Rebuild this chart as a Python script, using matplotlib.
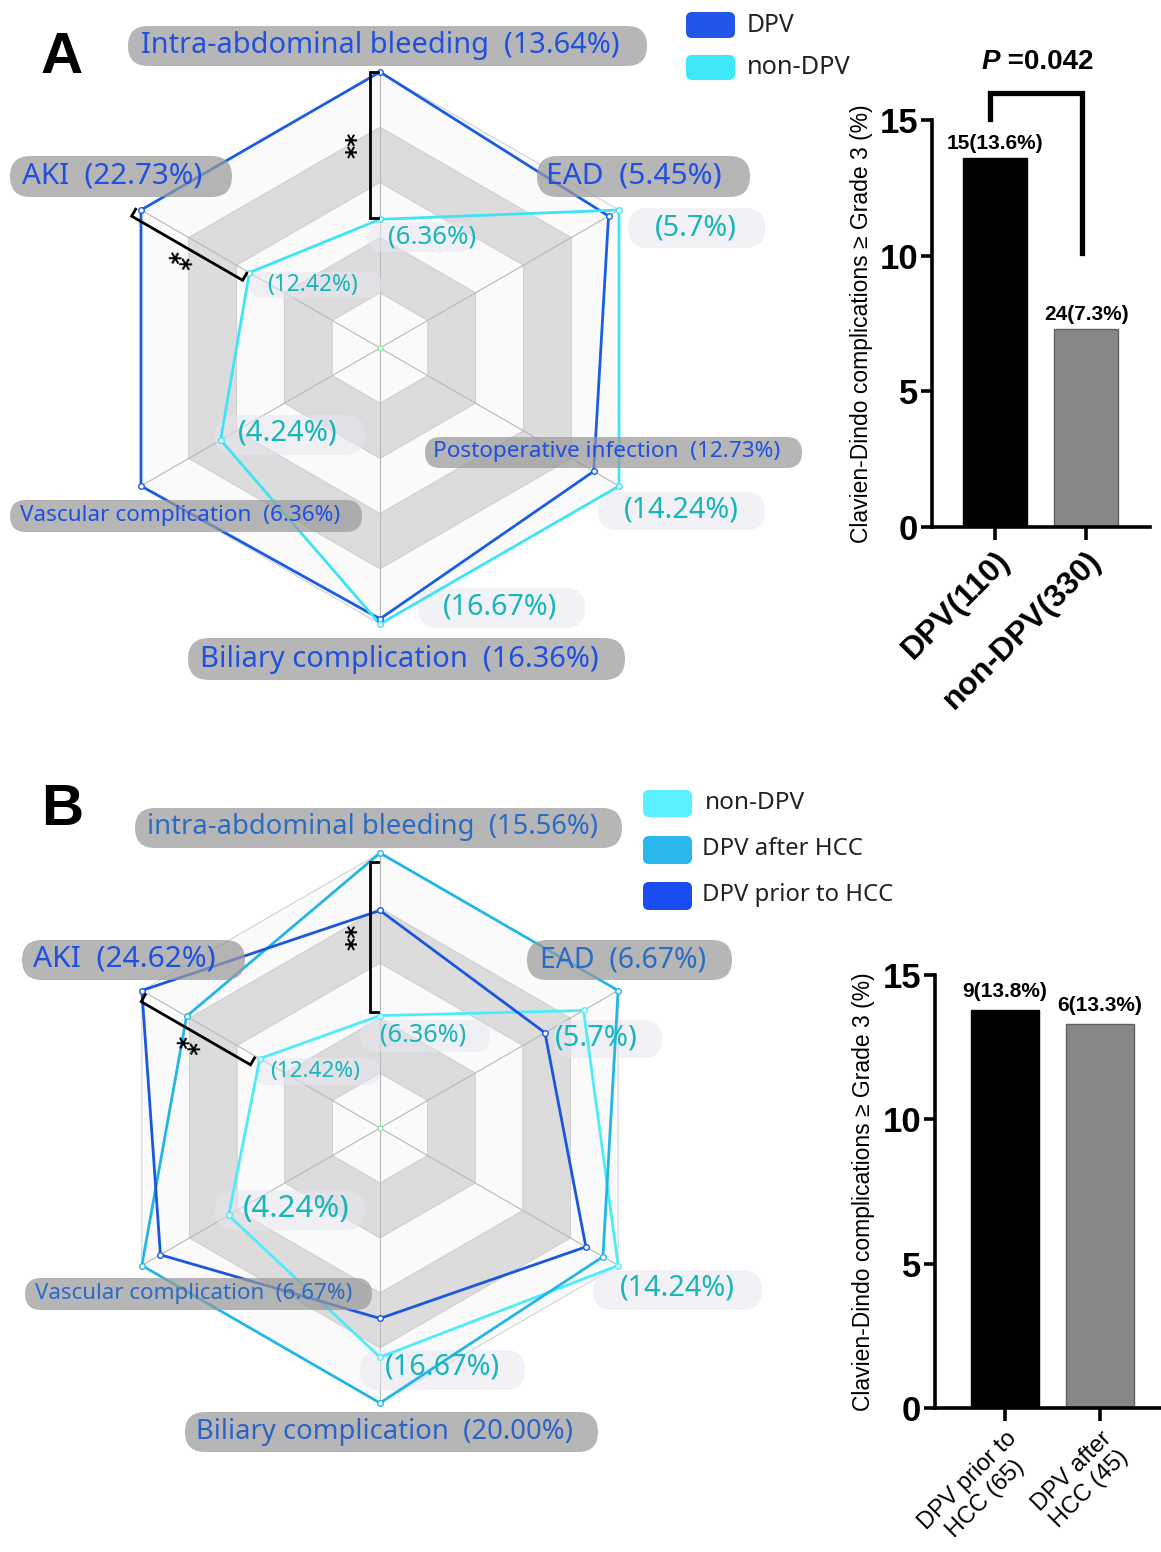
import numpy as np
import matplotlib
matplotlib.use("Agg")
import matplotlib.pyplot as plt
from matplotlib.patches import FancyBboxPatch, Polygon

# ---------------- data ----------------
axis_names_A = ["Intra-abdominal bleeding", "EAD", "Postoperative infection",
                "Biliary complication", "Vascular complication", "AKI"]
axis_names_B = ["intra-abdominal bleeding", "EAD", "Postoperative infection",
                "Biliary complication", "Vascular complication", "AKI"]
dpv_A = [13.64, 5.45, 12.73, 16.36, 6.36, 22.73]
non_dpv = [6.36, 5.70, 14.24, 16.67, 4.24, 12.42]
dpv_after_hcc = [15.56, 6.67, 13.33, 20.00, 6.67, 20.00]
dpv_prior_hcc = [12.31, 4.62, 12.31, 13.85, 6.15, 24.62]

legend_A = ["DPV", "non-DPV"]
legend_B = ["non-DPV", "DPV after HCC", "DPV prior to HCC"]

bar_cats_A = ["DPV(110)", "non-DPV(330)"]
bar_vals_A = [13.6, 7.3]
bar_counts_A = [15, 24]
bar_cats_B = ["DPV prior to\nHCC (65)", "DPV after\nHCC (45)"]
bar_vals_B = [13.8, 13.3]
bar_counts_B = [9, 6]
p_text_A = "0.042"
y_ticks = [0, 5, 10, 15]
ylabel = "Clavien-Dindo complications \u2265 Grade 3 (%)"

# ---------------- style ----------------
W, H = 1161, 1552
C_DPV = "#1a5ce4"
C_NON_A = "#3ee4f6"
C_NON_B = "#4eecfa"
C_AFTER = "#22b6e6"
C_PRIOR = "#1a56de"
TEAL = "#17b6ba"
PILL_FACE = "#9a9a9a"
LIGHT = "#fafafa"
GRAY = "#dcdcdc"
LABEL_FAM = ["Liberation Sans Narrow", "Noto Sans", "DejaVu Sans"]
LEG_FAM = ["Noto Sans", "DejaVu Sans"]
ARIAL = ["Liberation Sans", "DejaVu Sans"]

fig = plt.figure(figsize=(W / 100, H / 100), dpi=100)
ax0 = fig.add_axes([0, 0, 1, 1])
ax0.set_xlim(0, W)
ax0.set_ylim(H, 0)
ax0.axis("off")

N = 6
theta = np.deg2rad(np.arange(N) * 60.0)
UX, UY = np.sin(theta), -np.cos(theta)

fit_list = []


def draw_radar(cx, cy, R, series, colors, lw=2.0):
    for k in range(5, 0, -1):
        r = R * k / 5
        poly = np.column_stack([cx + UX * r, cy + UY * r])
        ax0.add_patch(Polygon(poly, closed=True,
                              facecolor=LIGHT if k % 2 else GRAY,
                              edgecolor="#cdcdcd", lw=0.7, zorder=1))
    for i in range(N):
        ax0.plot([cx, cx + UX[i] * R], [cy, cy + UY[i] * R],
                 color="#b8b8b8", lw=0.8, zorder=1.5)
    vmax = np.max(np.array(series), axis=0)
    radii = []
    for vals, c in zip(series, colors):
        r = np.asarray(vals) / vmax * R
        xs, ys = cx + UX * r, cy + UY * r
        ax0.plot(np.append(xs, xs[0]), np.append(ys, ys[0]), color=c, lw=lw,
                 zorder=3, solid_joinstyle="miter")
        ax0.plot(xs, ys, "o", ms=4, mfc="white", mec=c, mew=1.0, zorder=3.5)
        radii.append(r)
    ax0.plot([cx], [cy], "o", ms=3.5, mfc="white", mec="#80e0a0", mew=0.8,
             zorder=3.5)
    return radii


def bracket(cx, cy, i, r1, r2, off=10, tick=8, star_k=30):
    ux, uy = UX[i], UY[i]
    px, py = uy, -ux
    ax_ = cx + ux * r1 + px * off
    ay_ = cy + uy * r1 + py * off
    bx_ = cx + ux * r2 + px * off
    by_ = cy + uy * r2 + py * off
    ax0.plot([ax_ - px * tick, ax_, bx_, bx_ - px * tick],
             [ay_ - py * tick, ay_, by_, by_ - py * tick],
             color="black", lw=2.0, zorder=6, solid_joinstyle="miter")
    rm = (r1 + r2) / 2
    sx = cx + ux * rm + px * star_k
    sy = cy + uy * rm + py * star_k
    rot = np.degrees(np.arctan2(-uy, ux))
    if rot > 90:
        rot -= 180
    if rot <= -90:
        rot += 180
    ax0.text(sx, sy, "**", rotation=rot, rotation_mode="anchor", ha="center",
             va="center", fontsize=18, fontweight="bold", color="black",
             family=["DejaVu Sans"], zorder=6)


def pill(box, face, alpha, z=4):
    x0, x1, y0, y1 = box
    h = y1 - y0
    ax0.add_patch(FancyBboxPatch((x0, y0), x1 - x0, h,
                                 boxstyle=f"round,pad=0,rounding_size={h / 2}",
                                 fc=face, ec="none", alpha=alpha, zorder=z))


def label(x_left, cy, s, target_w, color, family, z=5, weight="normal"):
    t = ax0.text(x_left, cy, s, ha="left", va="center", color=color,
                 fontsize=20, family=family, zorder=z, fontweight=weight)
    fit_list.append((t, target_w))
    return t


# ================= Panel A radar =================
cxA, cyA, RA = 380, 348, 276
rA = draw_radar(cxA, cyA, RA, [dpv_A, non_dpv], [C_DPV, C_NON_A], lw=2.0)

big_A = {0: (141, 46, 477, (128, 647, 26, 66)),
         5: (22, 176, 181, (10, 232, 156, 197)),
         1: (546, 176, 176, (537, 750, 156, 197)),
         2: (433, 452, 347, (425, 802, 437, 468)),
         4: (20, 516, 320, (10, 362, 500, 532)),
         3: (200, 659, 398, (188, 625, 638, 680))}
small_A = {0: (388, 237, 88, (368, 472, 222, 252)),
           5: (267, 285, 91, (250, 382, 272, 298)),
           1: (655, 228, 82, (628, 765, 208, 248)),
           4: (238, 433, 100, (215, 365, 415, 455)),
           2: (624, 510, 115, (598, 765, 492, 530)),
           3: (443, 607, 114, (418, 585, 588, 628))}
for i, (xl, yc, tw, box) in small_A.items():
    pill(box, "#e6e6f0", 0.55, z=2.5)
    label(xl, yc, f"({non_dpv[i]:g}%)", tw, TEAL, LABEL_FAM, z=5)
for i, (xl, yc, tw, box) in big_A.items():
    pill(box, PILL_FACE, 0.72, z=4)
    label(xl, yc, f"{axis_names_A[i]}  ({dpv_A[i]:.2f}%)", tw, "#1f50e0",
          LABEL_FAM, z=5)

bracket(cxA, cyA, 0, RA, rA[1][0] + 1, star_k=24)
bracket(cxA, cyA, 5, RA + 5, rA[1][5] + 2, star_k=30)

# legend A
for (name, col, y0, y1) in zip(legend_A, ["#2156e8", "#3fe8f8"],
                               [12, 55], [38, 80]):
    ax0.add_patch(FancyBboxPatch((686, y0), 49, y1 - y0,
                                 boxstyle="round,pad=0,rounding_size=6",
                                 fc=col, ec="none", zorder=5))
legA_w = [48, 104]
for name, ty, tw in zip(legend_A, [25, 67], legA_w):
    label(747, ty, name, tw, "#222222", LEG_FAM)

ax0.text(62, 58, "A", ha="center", va="center", fontsize=42,
         fontweight="bold", family=ARIAL, color="black")

# ================= Panel B radar =================
cxB, cyB, RB = 380, 1128, 275
rB = draw_radar(cxB, cyB, RB, [non_dpv, dpv_after_hcc, dpv_prior_hcc],
                [C_NON_B, C_AFTER, C_PRIOR], lw=2.0)
dpv_max_B = np.maximum(dpv_after_hcc, dpv_prior_hcc)

big_B = {0: (147, 827, 450, (135, 622, 808, 848), "#2a6cc4"),
         5: (33, 959, 183, (22, 245, 940, 980), "#2050e0"),
         1: (540, 960, 166, (527, 732, 940, 980), "#2a6cc4"),
         4: (35, 1293, 317, (25, 372, 1278, 1310), "#2a6cc4"),
         3: (196, 1432, 376, (185, 598, 1412, 1452), "#2a62c8")}
small_B = {0: (380, 1035, 86, (360, 490, 1020, 1052)),
           5: (270, 1071, 90, (255, 380, 1058, 1085)),
           1: (555, 1038, 83, (553, 662, 1020, 1058)),
           4: (243, 1209, 107, (215, 365, 1190, 1230)),
           2: (620, 1288, 115, (593, 762, 1270, 1310)),
           3: (385, 1367, 115, (360, 525, 1350, 1390))}
for i, (xl, yc, tw, box) in small_B.items():
    pill(box, "#e6e6f0", 0.55, z=2.5)
    label(xl, yc, f"({non_dpv[i]:g}%)", tw, TEAL, LABEL_FAM, z=5)
for i, (xl, yc, tw, box, col) in big_B.items():
    pill(box, PILL_FACE, 0.72, z=4)
    label(xl, yc, f"{axis_names_B[i]}  ({dpv_max_B[i]:.2f}%)", tw, col,
          LABEL_FAM, z=5)

bracket(cxB, cyB, 0, RB - 9, rB[0][0] + 4, star_k=24)
bracket(cxB, cyB, 5, RB - 5, rB[0][5] + 5, star_k=30)

legB_boxes = [(790, 817), (836, 864), (882, 910)]
legB_cols = ["#5af0ff", "#2ab8ec", "#1a4cf2"]
for (y0, y1), col in zip(legB_boxes, legB_cols):
    ax0.add_patch(FancyBboxPatch((643, y0), 49, y1 - y0,
                                 boxstyle="round,pad=0,rounding_size=6",
                                 fc=col, ec="none", zorder=5))
for name, xl, ty, tw in zip(legend_B, [705, 702, 702], [803, 849, 895],
                            [100, 161, 191]):
    label(xl, ty, name, tw, "#222222", LEG_FAM)

ax0.text(62, 810, "B", ha="center", va="center", fontsize=42,
         fontweight="bold", family=ARIAL, color="black")


# ================= bar panels =================
def bar_panel(rect, cats, vals, counts, xlim, bar_w, lab_kw, lab_coord_x,
              lab_off, xpad):
    left, right, top, bottom = rect
    ax = fig.add_axes([left / W, 1 - bottom / H, (right - left) / W,
                       (bottom - top) / H])
    x = np.arange(len(cats))
    ax.bar(x, vals, width=bar_w, color=["#000000", "#878787"],
           edgecolor=["#000000", "#626262"], linewidth=1.0, zorder=2)
    ax.set_xlim(*xlim)
    ax.set_ylim(0, 15)
    ax.set_yticks(y_ticks)
    ax.set_xticks(x)
    ax.set_xticklabels(cats, rotation=45, ha="right", va="top",
                       rotation_mode="anchor", **lab_kw)
    for lab in ax.get_yticklabels():
        lab.set_fontweight("bold")
        lab.set_fontsize(25)
        lab.set_family(ARIAL)
    for s in ["top", "right"]:
        ax.spines[s].set_visible(False)
    for s in ["left", "bottom"]:
        ax.spines[s].set_linewidth(2.6)
    ax.tick_params(axis="y", direction="out", length=8, width=2.6, pad=2)
    ax.tick_params(axis="x", direction="out", length=9, width=2.6, pad=xpad)
    ax.set_ylabel(ylabel, fontsize=16.5, family=ARIAL)
    ax.yaxis.set_label_coords(lab_coord_x, 0.5)
    for xi, v, c in zip(x, vals, counts):
        ax.text(xi, v + lab_off, f"{c}({v:.1f}%)", ha="center", va="bottom",
                fontsize=15, fontweight="bold", family=ARIAL, color="black")
    ax.patch.set_alpha(0)
    return ax


axA = bar_panel((932, 1150, 120, 527), bar_cats_A, bar_vals_A, bar_counts_A,
                (-0.69, 1.70), 0.70,
                dict(fontsize=23, fontweight="bold", family=ARIAL),
                -0.27, 0.2, 4)
axA.plot([-0.05, -0.05, 0.95, 0.95], [15.05, 16.0, 16.0, 10.1], color="black",
         lw=3.8, clip_on=False, solid_joinstyle="miter")
axA.text(0.06, 17.15, "P", ha="right", va="center", fontsize=20,
         fontweight="bold", style="italic", family=ARIAL)
axA.text(0.06, 17.15, " =" + p_text_A, ha="left", va="center", fontsize=20,
         fontweight="bold", family=ARIAL)

axB = bar_panel((935, 1160, 975, 1408), bar_cats_B, bar_vals_B, bar_counts_B,
                (-0.737, 1.632), 0.72,
                dict(fontsize=17, family=ARIAL, multialignment="center"),
                -0.265, 0.3, 5)

# fit label widths
fig.canvas.draw()
renderer = fig.canvas.get_renderer()
for t, tw in fit_list:
    w = t.get_window_extent(renderer).width
    t.set_fontsize(t.get_fontsize() * tw / w)

fig.savefig("out.png", dpi=100)
